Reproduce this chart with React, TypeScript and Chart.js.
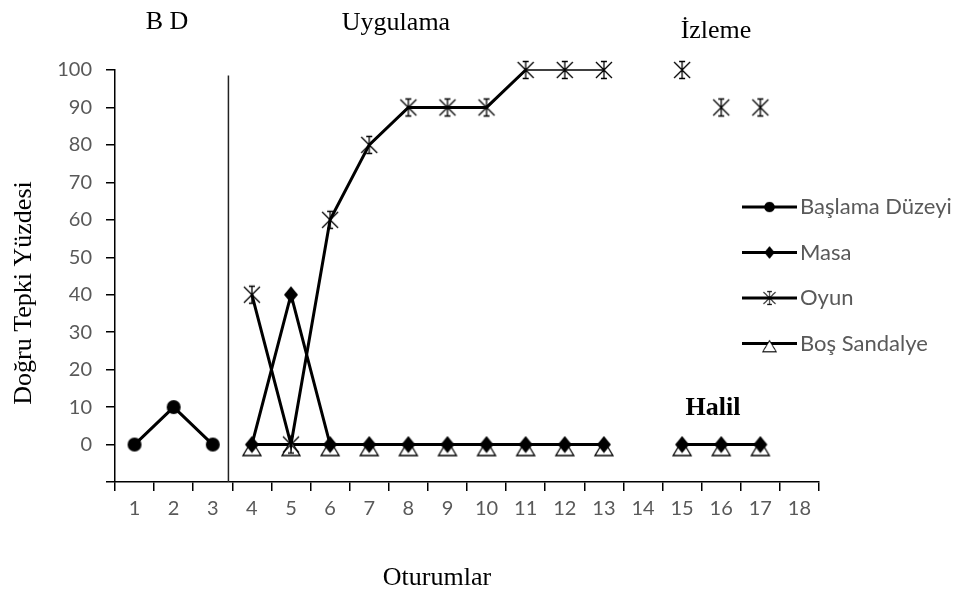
import React, { useEffect, useRef } from "react";
import { Chart, registerables } from "chart.js";

Chart.register(...registerables);

const sessions = ["1","2","3","4","5","6","7","8","9","10","11","12","13","14","15","16","17","18"];
const baslama = [0, 10, 0, null, null, null, null, null, null, null, null, null, null, null, null, null, null, null];
const masa = [null, null, null, 0, 40, 0, 0, 0, 0, 0, 0, 0, 0, null, 0, 0, 0, null];
const oyun = [null, null, null, 40, 0, 60, 80, 90, 90, 90, 100, 100, 100, null, null, null, null, null];
const oyunIzleme = [null, null, null, null, null, null, null, null, null, null, null, null, null, null, 100, 90, 90, null];
const bosSandalye = [null, null, null, 0, 0, 0, 0, 0, 0, 0, 0, 0, 0, null, 0, 0, 0, null];
const yTicks = [0, 10, 20, 30, 40, 50, 60, 70, 80, 90, 100];

const legendNames = ["Başlama Düzeyi", "Masa", "Oyun", "Boş Sandalye"];

function makeCanvas(w: number, h: number, draw: (c: CanvasRenderingContext2D) => void) {
  const c = document.createElement("canvas");
  c.width = w;
  c.height = h;
  const ctx = c.getContext("2d")!;
  draw(ctx);
  return c;
}

export default function App() {
  const ref = useRef<HTMLCanvasElement | null>(null);

  useEffect(() => {
    const circle = makeCanvas(16, 16, (c) => {
      c.fillStyle = "#000";
      c.beginPath();
      c.arc(8, 8, 7, 0, Math.PI * 2);
      c.fill();
    });
    const diamond = makeCanvas(16, 18, (c) => {
      c.fillStyle = "#000";
      c.beginPath();
      c.moveTo(8, 0.5);
      c.lineTo(15, 9);
      c.lineTo(8, 17.5);
      c.lineTo(1, 9);
      c.closePath();
      c.fill();
    });
    const star = makeCanvas(22, 22, (c) => {
      c.strokeStyle = "#000";
      c.lineWidth = 1.3;
      c.beginPath();
      c.moveTo(11, 2);
      c.lineTo(11, 20);
      c.moveTo(3, 3);
      c.lineTo(19, 19);
      c.moveTo(19, 3);
      c.lineTo(3, 19);
      c.moveTo(8, 2.5);
      c.lineTo(14, 2.5);
      c.moveTo(8, 19.5);
      c.lineTo(14, 19.5);
      c.stroke();
    });
    const triangle = makeCanvas(22, 34, (c) => {
      c.fillStyle = "#fff";
      c.strokeStyle = "#000";
      c.lineWidth = 1.3;
      c.beginPath();
      c.moveTo(11, 13);
      c.lineTo(20, 28);
      c.lineTo(2, 28);
      c.closePath();
      c.fill();
      c.stroke();
    });
    const legendMarkers = [circle, diamond, star, triangle];

    const overlay = {
      id: "overlay",
      afterDraw(chart: any) {
        const ctx = chart.ctx as CanvasRenderingContext2D;
        const x = chart.scales.x;
        const y = chart.scales.y;
        ctx.save();
        const px = x.getPixelForValue(2) + (x.getPixelForValue(3) - x.getPixelForValue(2)) * 0.4;
        ctx.strokeStyle = "#222";
        ctx.lineWidth = 1.5;
        ctx.beginPath();
        ctx.moveTo(px, y.getPixelForValue(98.5));
        ctx.lineTo(px, chart.chartArea.bottom);
        ctx.stroke();

        ctx.fillStyle = "#000";
        ctx.textAlign = "center";
        ctx.textBaseline = "alphabetic";
        ctx.font = "26px 'Liberation Serif', serif";
        ctx.fillText("B D", 167, 29);
        ctx.fillText("Uygulama", 396, 30);
        ctx.fillText("İzleme", 716, 38);
        ctx.fillText("Oturumlar", 437, 585);
        ctx.font = "bold 26px 'Liberation Serif', serif";
        ctx.fillText("Halil", 713, 415);
        ctx.save();
        ctx.translate(31, 293);
        ctx.rotate(-Math.PI / 2);
        ctx.font = "26px 'Liberation Serif', serif";
        ctx.fillText("Doğru Tepki Yüzdesi", 0, 0);
        ctx.restore();

        const lx0 = 742, lx1 = 797, top = 207, step = 45.5;
        legendNames.forEach((name, i) => {
          const ly = top + i * step;
          ctx.strokeStyle = "#000";
          ctx.lineWidth = 3;
          ctx.beginPath();
          ctx.moveTo(lx0, ly);
          ctx.lineTo(lx1, ly);
          ctx.stroke();
          const m = legendMarkers[i];
          const s = 0.75;
          ctx.drawImage(m, (lx0 + lx1) / 2 - (m.width * s) / 2, ly - (m.height * s) / 2, m.width * s, m.height * s);
          ctx.fillStyle = "#595959";
          ctx.font = "22px Lato, sans-serif";
          ctx.textAlign = "left";
          ctx.textBaseline = "middle";
          ctx.fillText(name, 800, ly);
        });
        ctx.restore();
      },
    };

    const common = {
      borderColor: "#000",
      borderWidth: 3,
      pointRadius: 6,
      pointHoverRadius: 6,
      spanGaps: false,
      clip: false as any,
    };

    const chart = new Chart(ref.current!, {
      type: "line",
      data: {
        labels: sessions,
        datasets: [
          { ...common, label: "Başlama Düzeyi", data: baslama, pointStyle: circle as any },
          { ...common, label: "Masa", data: masa, pointStyle: diamond as any },
          {
            ...common,
            label: "Oyun",
            data: oyun,
            pointStyle: star as any,
            segment: {
              borderWidth: (ctx: any) => (ctx.p0.parsed.y === 100 && ctx.p1.parsed.y === 100 ? 1.5 : 3),
            },
          },
          { ...common, label: "Oyun İzleme", data: oyunIzleme, pointStyle: star as any, showLine: false },
          { ...common, label: "Boş Sandalye", data: bosSandalye, pointStyle: triangle as any },
        ],
      },
      options: {
        responsive: false,
        animation: false,
        layout: { padding: { left: 0, right: 135, top: 70, bottom: 0 } },
        plugins: { legend: { display: false }, tooltip: { enabled: false }, title: { display: false } },
        scales: {
          x: {
            type: "category",
            offset: true,
            grid: { display: true, drawOnChartArea: false, drawTicks: true, tickLength: 9, color: "#000", offset: true, lineWidth: 1.5 },
            border: { display: true, color: "#000", width: 1.5 },
            ticks: { color: "#595959", font: { family: "Lato, sans-serif", size: 20 }, maxRotation: 0, autoSkip: false, padding: 6 },
            afterFit: (s: any) => { s.height = 115; },
          },
          y: {
            min: -10,
            max: 100,
            afterBuildTicks: (s: any) => { s.ticks = [-10, ...yTicks].map((v) => ({ value: v })); },
            grid: { display: true, drawOnChartArea: false, drawTicks: true, tickLength: 9, color: "#000", lineWidth: 1.5 },
            border: { display: true, color: "#000", width: 1.5 },
            ticks: {
              color: "#595959",
              font: { family: "Lato, sans-serif", size: 20 },
              padding: 14,
              callback: (v: any) => (v < 0 ? "" : String(v)),
            },
            afterFit: (s: any) => { s.width = 115; },
          },
        },
      },
      plugins: [overlay],
    });
    return () => chart.destroy();
  }, []);

  return (
    <div style={{ position: "fixed", left: 0, top: 0, width: 954, height: 597, background: "#fff" }}>
      <canvas ref={ref} width={954} height={597} />
    </div>
  );
}
